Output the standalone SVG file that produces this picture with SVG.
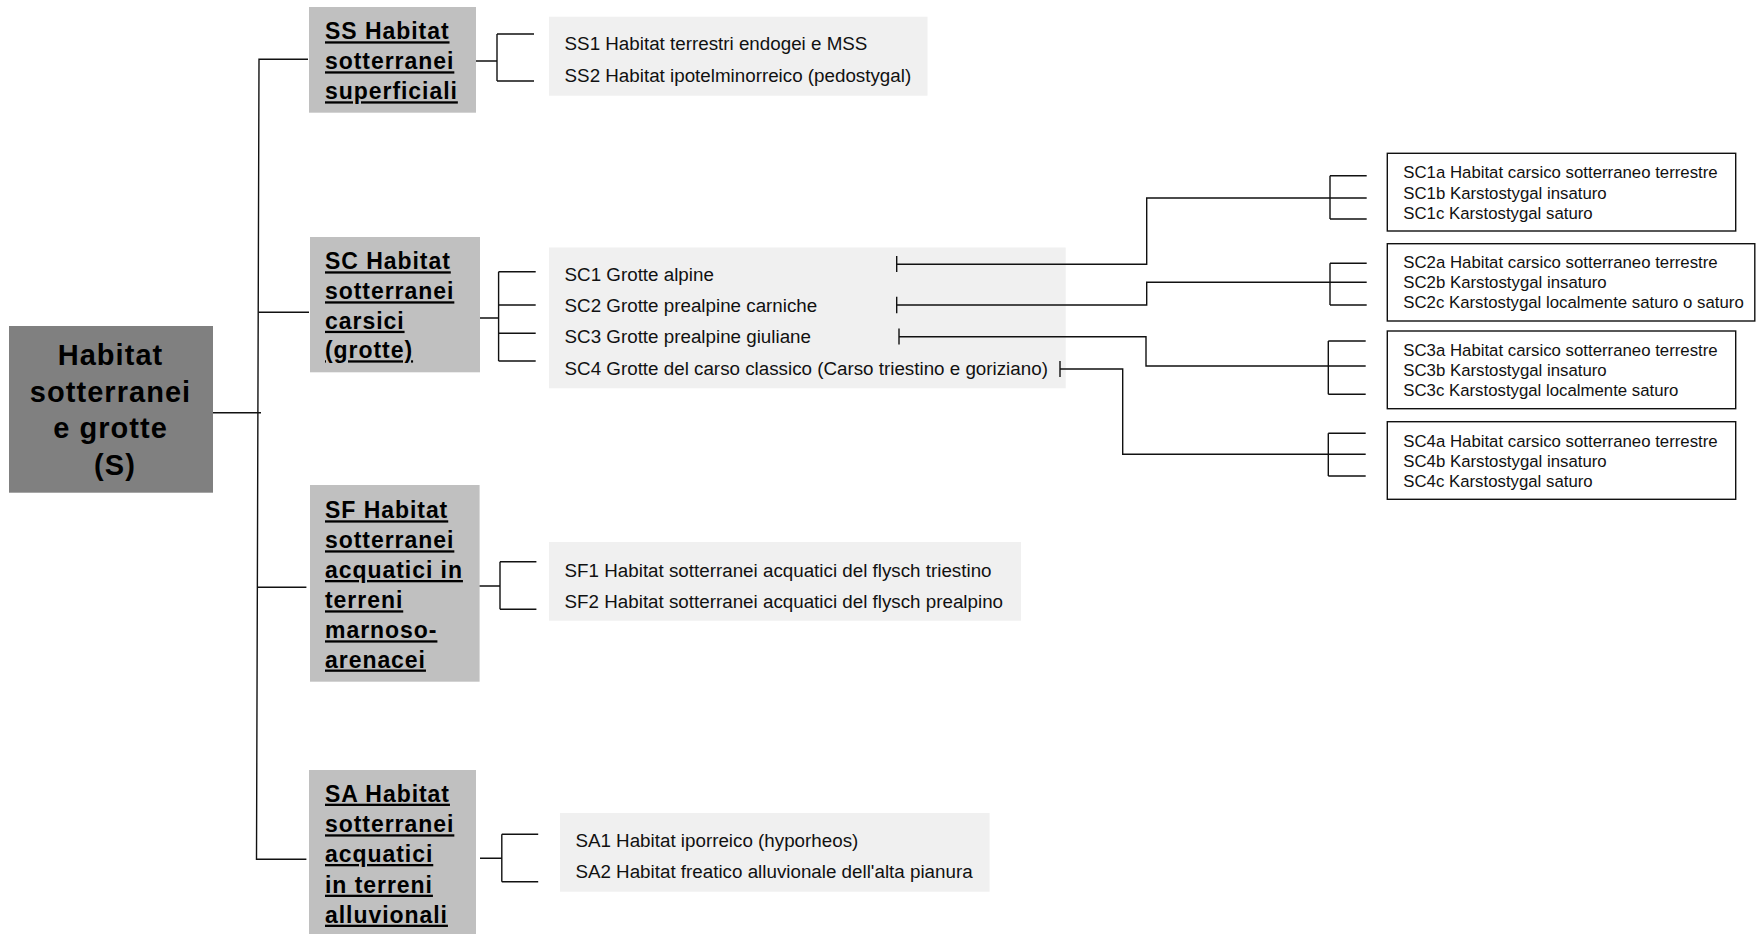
<svg xmlns="http://www.w3.org/2000/svg" width="1756" height="934" viewBox="0 0 1756 934">
<style>
.root{fill:#808080}
.cat{fill:#c0c0c0}
.list{fill:#f0f0f0}
.sub{fill:#ffffff;stroke:#111;stroke-width:1.4}
.rt{font-family:"Liberation Sans",Arial,sans-serif;font-weight:bold;font-size:29px;letter-spacing:1.05px;fill:#000;text-anchor:middle}
.ct{font-family:"Liberation Sans",Arial,sans-serif;font-weight:bold;font-size:23px;letter-spacing:0.95px;fill:#000;text-decoration:underline}
.lt{font-family:"Liberation Sans",Arial,sans-serif;font-size:18.8px;fill:#111}
.st{font-family:"Liberation Sans",Arial,sans-serif;font-size:16.8px;fill:#111}
.ln{fill:none;stroke:#111;stroke-width:1.4}
</style>
<g id="root">
<rect class="root" x="9" y="326" width="204" height="166.7"/>
<text class="rt" x="110.5" y="365">Habitat</text>
<text class="rt" x="110.5" y="401.7">sotterranei</text>
<text class="rt" x="110.5" y="438.3">e grotte</text>
<text class="rt" x="115" y="475">(S)</text>
</g>
<g id="SS">
<rect class="cat" x="309" y="7" width="167" height="105.7"/>
<text class="ct" x="325" y="39.3">SS Habitat</text>
<text class="ct" x="325" y="69.3">sotterranei</text>
<text class="ct" x="325" y="99.3">superficiali</text>
</g>
<g id="SS-list">
<rect class="list" x="549" y="16.7" width="378.5" height="79"/>
<text class="lt" x="564.6" y="50">SS1 Habitat terrestri endogei e MSS</text>
<text class="lt" x="564.6" y="82.3">SS2 Habitat ipotelminorreico (pedostygal)</text>
</g>
<g id="SC">
<rect class="cat" x="310" y="237" width="170" height="135.3"/>
<text class="ct" x="325" y="269.3">SC Habitat</text>
<text class="ct" x="325" y="299.3">sotterranei</text>
<text class="ct" x="325" y="328.8">carsici</text>
<text class="ct" x="325" y="358.3">(grotte)</text>
</g>
<g id="SC-list">
<rect class="list" x="549" y="247.5" width="516.7" height="140.8"/>
<text class="lt" x="564.6" y="281">SC1 Grotte alpine</text>
<text class="lt" x="564.6" y="312">SC2 Grotte prealpine carniche</text>
<text class="lt" x="564.6" y="343.3">SC3 Grotte prealpine giuliane</text>
<text class="lt" x="564.6" y="375">SC4 Grotte del carso classico (Carso triestino e goriziano)</text>
</g>
<g id="SC1">
<rect class="sub" x="1387.3" y="153.3" width="348.4" height="77.7"/>
<text class="st" x="1403.3" y="178.3">SC1a Habitat carsico sotterraneo terrestre</text>
<text class="st" x="1403.3" y="198.8">SC1b Karstostygal insaturo</text>
<text class="st" x="1403.3" y="219">SC1c Karstostygal saturo</text>
</g>
<g id="SC2">
<rect class="sub" x="1387.3" y="243.7" width="367.5" height="77.3"/>
<text class="st" x="1403.3" y="268.3">SC2a Habitat carsico sotterraneo terrestre</text>
<text class="st" x="1403.3" y="288.3">SC2b Karstostygal insaturo</text>
<text class="st" x="1403.3" y="308.3">SC2c Karstostygal localmente saturo o saturo</text>
</g>
<g id="SC3">
<rect class="sub" x="1387.3" y="331" width="348.4" height="77.7"/>
<text class="st" x="1403.3" y="355.7">SC3a Habitat carsico sotterraneo terrestre</text>
<text class="st" x="1403.3" y="376">SC3b Karstostygal insaturo</text>
<text class="st" x="1403.3" y="396">SC3c Karstostygal localmente saturo</text>
</g>
<g id="SC4">
<rect class="sub" x="1387.3" y="421.7" width="348.4" height="77.6"/>
<text class="st" x="1403.3" y="446.7">SC4a Habitat carsico sotterraneo terrestre</text>
<text class="st" x="1403.3" y="466.7">SC4b Karstostygal insaturo</text>
<text class="st" x="1403.3" y="486.7">SC4c Karstostygal saturo</text>
</g>
<g id="SF">
<rect class="cat" x="310" y="485" width="169.6" height="196.7"/>
<text class="ct" x="325" y="518.3">SF Habitat</text>
<text class="ct" x="325" y="548.3">sotterranei</text>
<text class="ct" x="325" y="578">acquatici in</text>
<text class="ct" x="325" y="608.3">terreni</text>
<text class="ct" x="325" y="638.3">marnoso-</text>
<text class="ct" x="325" y="667.5">arenacei</text>
</g>
<g id="SF-list">
<rect class="list" x="549" y="542" width="472" height="78.7"/>
<text class="lt" x="564.6" y="576.7">SF1 Habitat sotterranei acquatici del flysch triestino</text>
<text class="lt" x="564.6" y="608.3">SF2 Habitat sotterranei acquatici del flysch prealpino</text>
</g>
<g id="SA">
<rect class="cat" x="309" y="770" width="167" height="164"/>
<text class="ct" x="325" y="801.7">SA Habitat</text>
<text class="ct" x="325" y="832.3">sotterranei</text>
<text class="ct" x="325" y="862">acquatici</text>
<text class="ct" x="325" y="892.7">in terreni</text>
<text class="ct" x="325" y="922.7">alluvionali</text>
</g>
<g id="SA-list">
<rect class="list" x="560" y="813" width="429.6" height="78.7"/>
<text class="lt" x="575.4" y="846.7">SA1 Habitat iporreico (hyporheos)</text>
<text class="lt" x="575.4" y="878.3">SA2 Habitat freatico alluvionale dell'alta pianura</text>
</g>
<g id="connectors" class="ln">
<path d="M308,59.3 H259 L256.5,859.3 H306.4"/>
<path d="M258.5,312.3 H309"/>
<path d="M213,412.7 H261"/>
<path d="M257.8,587.3 H306.4"/>
<path d="M476,61 H497 M497,34 V81 M497,34 H534 M497,81 H534"/>
<path d="M480,318 H498.6 M498.6,271.7 V361 M498.6,271.7 H535.7 M498.6,305 H535.7 M498.6,333.3 H535.7 M498.6,361 H535.7"/>
<path d="M479.6,586 H500 M500,561.7 V609.3 M500,561.7 H536.4 M500,609.3 H536.4"/>
<path d="M480,858.3 H501.8 M501.8,834.3 V881.7 M501.8,834.3 H538.2 M501.8,881.7 H538.2"/>
<path d="M896.7,256 V272 M896.7,264.3 H1146.7 V198 H1330"/>
<path d="M896.7,296.7 V313.3 M896.7,305 H1146.7 V282.3 H1330"/>
<path d="M899,328.5 V344.5 M899,336.7 H1146 V366 H1328.3"/>
<path d="M1060,361 V377 M1060,369 H1122.7 V454.3 H1328.3"/>
<path d="M1330,175.7 V219 M1330,175.7 H1366.7 M1330,198 H1366.7 M1330,219 H1366.7"/>
<path d="M1330,263.3 V305 M1330,263.3 H1366.7 M1330,282.3 H1366.7 M1330,305 H1366.7"/>
<path d="M1328.3,341 V394.3 M1328.3,341 H1365.7 M1328.3,366 H1365.7 M1328.3,394.3 H1365.7"/>
<path d="M1328.3,433.3 V476 M1328.3,433.3 H1365.7 M1328.3,454.3 H1365.7 M1328.3,476 H1365.7"/>
</g>
</svg>
